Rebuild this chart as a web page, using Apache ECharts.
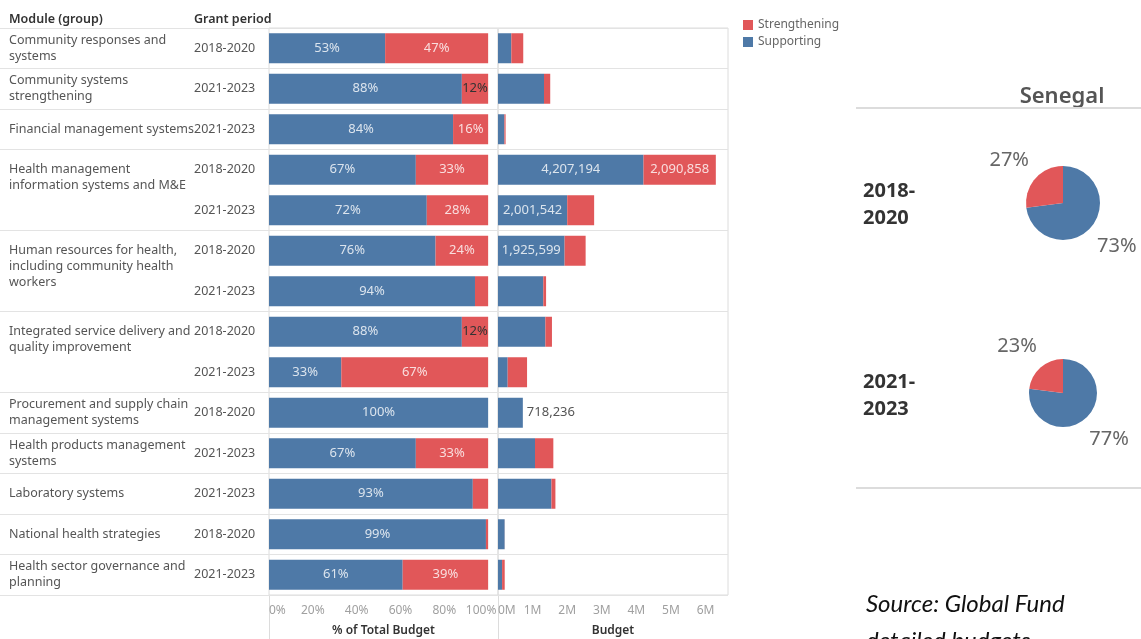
<!DOCTYPE html>
<html>
<head>
<meta charset="utf-8">
<script src="https://cdn.jsdelivr.net/npm/echarts@6/dist/echarts.min.js"></script>
</head>
<body style="margin:0;background:#fff">
<div id="main" style="width:1141px;height:639px"></div>
<script>
// one entry per bar row; '' = row continues the module above
var moduleNames = [
  'Community responses and\nsystems',
  'Community systems\nstrengthening',
  'Financial management systems',
  'Health management\ninformation systems and M&E',
  '',
  'Human resources for health,\nincluding community health\nworkers',
  '',
  'Integrated service delivery and\nquality improvement',
  '',
  'Procurement and supply chain\nmanagement systems',
  'Health products management\nsystems',
  'Laboratory systems',
  'National health strategies',
  'Health sector governance and\nplanning'
];
var periods = ['2018-2020', '2021-2023', '2021-2023', '2018-2020', '2021-2023', '2018-2020', '2021-2023',
  '2018-2020', '2021-2023', '2018-2020', '2021-2023', '2021-2023', '2018-2020', '2021-2023'];

// % of total budget
var supportingPct = [53, 88, 84, 67, 72, 76, 94, 88, 33, 100, 67, 93, 99, 61];
var strengtheningPct = [47, 12, 16, 33, 28, 24, 6, 12, 67, 0, 33, 7, 1, 39];

// budget (USD)
var supportingBudget = [385000, 1330000, 185000, 4207194, 2001542, 1925599, 1310000,
  1370000, 280000, 718236, 1070000, 1545000, 192000, 118000];
var strengtheningBudget = [345000, 180000, 35000, 2090858, 778000, 608000, 80000,
  190000, 560000, 0, 530000, 115000, 2000, 76000];

// Senegal totals
var pieYears = ['2018-2020', '2021-2023'];
var pieSupporting = [73, 77];
var pieStrengthening = [27, 23];

var BLUE = '#4e79a7', RED = '#e15759';
var FONT = 'Noto Sans';
var LIGHT = 'rgba(255,255,255,0.8)';
var LINE = '#e3e3e3';

var rowKeys = moduleNames.map(function (d, i) { return String(i); });

function isGroupStart(i) { return moduleNames[i] !== ''; }

function moduleLabel(v, i) {
  var name = moduleNames[i];
  if (!name) return '';
  // module spanning several rows: first line sits on the first row
  if (i + 1 < moduleNames.length && moduleNames[i + 1] === '') {
    var n = name.split('\n').length;
    return new Array(n).join('\n') + name;
  }
  return name;
}

var splitLine = {
  show: true,
  interval: function (i) { return isGroupStart(i); },
  lineStyle: { color: LINE, width: 1 }
};

function fmtNum(v) { return v.toLocaleString('en-US'); }

var chart = echarts.init(document.getElementById('main'));

var option = {
  animation: false,
  textStyle: { fontFamily: FONT },
  legend: {
    data: ['Strengthening', 'Supporting'],
    orient: 'vertical',
    left: 738, top: 14,
    icon: 'rect', itemWidth: 10, itemHeight: 10, itemGap: 5,
    textStyle: { color: '#666', fontSize: 12, fontFamily: FONT }
  },
  grid: [
    { left: 0, top: 28, width: 269, height: 567, outerBoundsMode: 'none' },
    { left: 269, top: 28, width: 229, height: 567, outerBoundsMode: 'none', show: true, borderColor: '#dcdcdc', borderWidth: 1 },
    { left: 498, top: 28, width: 230, height: 567, outerBoundsMode: 'none', show: true, borderColor: '#dcdcdc', borderWidth: 1 }
  ],
  xAxis: [
    { gridIndex: 0, type: 'value', show: false },
    {
      gridIndex: 1, type: 'value', min: 0, max: 104.5, interval: 20,
      axisLine: { show: false }, axisTick: { show: false }, splitLine: { show: false },
      axisLabel: {
        formatter: function (v) { return v === 100 ? '{r|100%}' : v + '%'; },
        rich: { r: { color: '#a0a0a0', fontSize: 12, padding: [0, 14, 0, 0] } },
        color: '#a0a0a0', fontSize: 12, margin: 10,
        showMaxLabel: false, alignMinLabel: 'left'
      },
      name: '% of Total Budget', nameLocation: 'middle', nameGap: 30,
      nameTextStyle: { color: '#333', fontSize: 12, fontWeight: 600 }
    },
    {
      gridIndex: 2, type: 'value', min: 0, max: 6650000, interval: 1000000,
      axisLine: { show: false }, axisTick: { show: false }, splitLine: { show: false },
      axisLabel: { formatter: function (v) { return (v / 1e6) + 'M'; }, color: '#a0a0a0',
        fontSize: 12, margin: 10, showMaxLabel: false, alignMinLabel: 'left' },
      name: 'Budget', nameLocation: 'middle', nameGap: 30,
      nameTextStyle: { color: '#333', fontSize: 12, fontWeight: 600 }
    }
  ],
  yAxis: [
    {
      gridIndex: 0, type: 'category', inverse: true, data: rowKeys,
      axisLine: { show: false }, axisTick: { show: false }, splitLine: splitLine,
      axisLabel: { inside: true, margin: 9, interval: 0, formatter: moduleLabel,
        color: '#555', fontSize: 12.5, lineHeight: 16, align: 'left' }
    },
    {
      gridIndex: 1, type: 'category', inverse: true, data: rowKeys,
      axisLine: { show: false }, axisTick: { show: false }, splitLine: splitLine,
      axisLabel: { margin: 75, interval: 0, align: 'left', color: '#555', fontSize: 12.5,
        formatter: function (v, i) { return periods[i]; } }
    },
    {
      gridIndex: 2, type: 'category', inverse: true, data: rowKeys,
      axisLine: { show: false }, axisTick: { show: false }, splitLine: splitLine,
      axisLabel: { show: false }
    }
  ],
  series: [
    {
      name: 'Supporting', type: 'bar', stack: 'pct', xAxisIndex: 1, yAxisIndex: 1,
      barWidth: 30, itemStyle: { color: BLUE },
      label: { show: true, position: 'inside', formatter: '{c}%', color: LIGHT, fontSize: 13 },
      data: supportingPct
    },
    {
      name: 'Strengthening', type: 'bar', stack: 'pct', xAxisIndex: 1, yAxisIndex: 1,
      barWidth: 30, itemStyle: { color: RED },
      label: { show: true, position: 'inside', formatter: '{c}%', color: LIGHT, fontSize: 13 },
      data: strengtheningPct.map(function (v) {
        return { value: v, label: { show: v >= 10, color: v < 15 ? '#333' : LIGHT } };
      })
    },
    {
      name: 'Supporting', type: 'bar', stack: 'bud', xAxisIndex: 2, yAxisIndex: 2,
      barWidth: 30, itemStyle: { color: BLUE },
      label: { position: 'inside', color: LIGHT, fontSize: 13,
        formatter: function (p) { return fmtNum(p.value); } },
      data: supportingBudget.map(function (v, i) {
        if (strengtheningBudget[i] === 0) {
          return { value: v, label: { show: true, position: 'right', color: '#555', distance: 4 } };
        }
        return { value: v, label: { show: v >= 1900000 } };
      })
    },
    {
      name: 'Strengthening', type: 'bar', stack: 'bud', xAxisIndex: 2, yAxisIndex: 2,
      barWidth: 30, itemStyle: { color: RED },
      label: { position: 'inside', color: LIGHT, fontSize: 13,
        formatter: function (p) { return fmtNum(p.value); } },
      data: strengtheningBudget.map(function (v) {
        return { value: v, label: { show: v >= 1900000 } };
      })
    }
  ].concat(pieYears.map(function (y, k) {
    return {
      type: 'pie',
      center: [1063, k === 0 ? 203 : 393],
      radius: k === 0 ? 37 : 34,
      startAngle: 90,
      avoidLabelOverlap: false,
      label: { formatter: '{c}%', fontSize: 20, color: '#666', fontFamily: FONT },
      labelLine: { show: false, length: 28, length2: 0 },
      labelLayout: { align: 'center', verticalAlign: 'middle' },
      data: [
        { name: 'Supporting', value: pieSupporting[k], itemStyle: { color: BLUE } },
        { name: 'Strengthening', value: pieStrengthening[k], itemStyle: { color: RED } }
      ]
    };
  })),
  graphic: [
    { type: 'text', x: 9, y: 19, style: { text: 'Module (group)', fill: '#333', fontSize: 12.5, fontWeight: 600, fontFamily: FONT, verticalAlign: 'middle' } },
    { type: 'text', x: 194, y: 19, style: { text: 'Grant period', fill: '#333', fontSize: 12.5, fontWeight: 600, fontFamily: FONT, verticalAlign: 'middle' } },
    { type: 'line', shape: { x1: 269.5, y1: 595, x2: 269.5, y2: 639 }, style: { stroke: '#dcdcdc', lineWidth: 1 } },
    { type: 'line', shape: { x1: 498.5, y1: 595, x2: 498.5, y2: 639 }, style: { stroke: '#dcdcdc', lineWidth: 1 } },
    { type: 'text', x: 1062, y: 97, style: { text: 'Senegal', fill: '#555', fontSize: 22, fontWeight: 600, fontFamily: FONT, align: 'center', verticalAlign: 'middle' } },
    { type: 'line', shape: { x1: 856, y1: 108, x2: 1141, y2: 108 }, style: { stroke: '#dcdcdc', lineWidth: 2 } },
    { type: 'text', x: 863, y: 204.5, style: { text: pieYears[0].replace('-', '-\n'), fill: '#333', fontSize: 20, fontWeight: 'bold', lineHeight: 27, fontFamily: FONT, verticalAlign: 'middle' } },
    { type: 'text', x: 863, y: 395.5, style: { text: pieYears[1].replace('-', '-\n'), fill: '#333', fontSize: 20, fontWeight: 'bold', lineHeight: 27, fontFamily: FONT, verticalAlign: 'middle' } },
    { type: 'line', shape: { x1: 856, y1: 488, x2: 1141, y2: 488 }, style: { stroke: '#dcdcdc', lineWidth: 2 } },
    { type: 'text', x: 866, y: 604, style: { text: 'Source: Global Fund', fill: '#111', fontSize: 24, fontStyle: 'italic', fontFamily: 'Lato', verticalAlign: 'middle' } },
    { type: 'text', x: 866, y: 641, style: { text: 'detailed budgets', fill: '#111', fontSize: 24, fontStyle: 'italic', fontFamily: 'Lato', verticalAlign: 'middle' } }
  ]
};

chart.setOption(option);
window.addEventListener('resize', chart.resize);
</script>
</body>
</html>
